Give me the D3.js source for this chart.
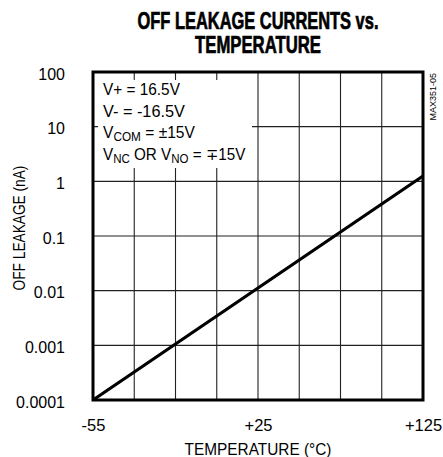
<!DOCTYPE html>
<html>
<head>
<meta charset="utf-8">
<script src="https://cdn.jsdelivr.net/npm/d3@7"></script>
<style>
  body { margin: 0; background: #fff; }
  svg { display: block; font-family: "Liberation Sans", Arial, sans-serif; }
</style>
</head>
<body>
<div id="chart"></div>
<script>
// ---- data ----
const temperature = [-55, 25, 125];        // °C
const leakage = [0.0001, 0.0112, 1.25];    // nA (straight on log scale)

const xTickValues = [-55, 25, 125];
const xTickLabels = ['-55', '+25', '+125'];
const xGridValues = [-55, -35, -15, 5, 25, 50, 75, 100, 125];
const yTickValues = [0.0001, 0.001, 0.01, 0.1, 1, 10, 100];
const yTickLabels = ['0.0001', '0.001', '0.01', '0.1', '1', '10', '100'];

const width = 443;
const height = 457;
const margin = { top: 72, right: 20, bottom: 57, left: 93 };
const innerW = width - margin.left - margin.right;
const innerH = height - margin.top - margin.bottom;

// the datasheet spaces -55 / +25 / +125 evenly, so use a two-piece linear scale
const x = d3.scaleLinear().domain([-55, 25, 125]).range([0, innerW / 2, innerW]);
const y = d3.scaleLog().domain([0.0001, 100]).range([innerH, 0]);

const svg = d3.select('#chart').append('svg')
  .attr('width', width).attr('height', height);

// squeeze a text horizontally (condensed look) so it spans `w` px
function squeeze(text, px, py, w, rot) {
  const len = text.node().getComputedTextLength();
  const s = Math.min(1, w / len);
  text.attr('x', 0).attr('y', 0)
    .attr('transform', `translate(${px},${py})${rot ? ` rotate(${rot})` : ''} scale(${s},1)`);
}

// title (heavy condensed face: bold + thin outline)
const tAttrs = (t) => t.attr('font-weight', 'bold').attr('font-size', 23.5).attr('text-anchor', 'middle')
  .attr('stroke', '#000').attr('stroke-width', 0.7);
squeeze(svg.append('text').call(tAttrs).text('OFF LEAKAGE CURRENTS vs.'), 258, 28.5, 241);
squeeze(svg.append('text').call(tAttrs).text('TEMPERATURE'), 258, 53, 126);

const g = svg.append('g').attr('transform', `translate(${margin.left},${margin.top})`);

// grid
g.append('g').selectAll('line').data(xGridValues).join('line')
  .attr('x1', (d) => x(d)).attr('x2', (d) => x(d))
  .attr('y1', 0).attr('y2', innerH)
  .attr('stroke', '#222').attr('stroke-width', 1.1);
g.append('g').selectAll('line').data(yTickValues).join('line')
  .attr('x1', 0).attr('x2', innerW)
  .attr('y1', (d) => y(d)).attr('y2', (d) => y(d))
  .attr('stroke', '#222').attr('stroke-width', 1.1);

// conditions box (white knock-out over grid)
g.append('rect').attr('x', 5).attr('y', 8).attr('width', 154).attr('height', 88).attr('fill', '#fff');
const note = g.append('g').attr('font-size', 16.5).attr('fill', '#000');
squeeze(note.append('text').text('V+ = 16.5V'), 10, 23, 77);
squeeze(note.append('text').text('V- = -16.5V'), 10, 44.7, 82);
const n3 = note.append('text');
n3.append('tspan').text('V');
n3.append('tspan').attr('font-size', 12.5).attr('dy', 3).text('COM');
n3.append('tspan').attr('dy', -3).text(' = \u00b115V');
squeeze(n3, 10, 66.3, 92);
const n4 = note.append('text');
n4.append('tspan').text('V');
n4.append('tspan').attr('font-size', 12.5).attr('dy', 3).text('NC');
n4.append('tspan').attr('dy', -3).text(' OR V');
n4.append('tspan').attr('font-size', 12.5).attr('dy', 3).text('NO');
n4.append('tspan').attr('dy', -3).text(' = \u221315V');
squeeze(n4, 10, 88, 143);

// data line
g.append('path')
  .datum(temperature.map((t, i) => [t, leakage[i]]))
  .attr('fill', 'none').attr('stroke', '#000').attr('stroke-width', 3.2)
  .attr('d', d3.line().x((d) => x(d[0])).y((d) => y(d[1])));

// frame
g.append('rect').attr('width', innerW).attr('height', innerH)
  .attr('fill', 'none').attr('stroke', '#000').attr('stroke-width', 3);

// axes
const yAxis = g.append('g')
  .call(d3.axisLeft(y).tickValues(yTickValues).tickFormat((d, i) => yTickLabels[i]).tickSize(0).tickPadding(28));
yAxis.select('.domain').remove();
yAxis.selectAll('text').attr('font-size', 16).attr('dy', '0.45em');

const xAxis = g.append('g').attr('transform', `translate(0,${innerH})`)
  .call(d3.axisBottom(x).tickValues(xTickValues).tickFormat((d, i) => xTickLabels[i]).tickSize(0).tickPadding(19));
xAxis.select('.domain').remove();
xAxis.selectAll('text').attr('font-size', 16.5);
svg.selectAll('.tick text').attr('fill', '#000');
svg.selectAll('g[font-family]').attr('font-family', null);

// axis titles
squeeze(svg.append('text').attr('font-size', 16.5).attr('text-anchor', 'middle').text('OFF LEAKAGE (nA)'), 25, 228, 125, -90);
squeeze(svg.append('text').attr('font-size', 16.5).attr('text-anchor', 'middle').text('TEMPERATURE (\u00b0C)'), 258, 455, 147);

// part code
squeeze(svg.append('text').attr('font-size', 9).attr('text-anchor', 'end').text('MAX351-05'), 436, 73, 49, -90);
</script>
</body>
</html>
